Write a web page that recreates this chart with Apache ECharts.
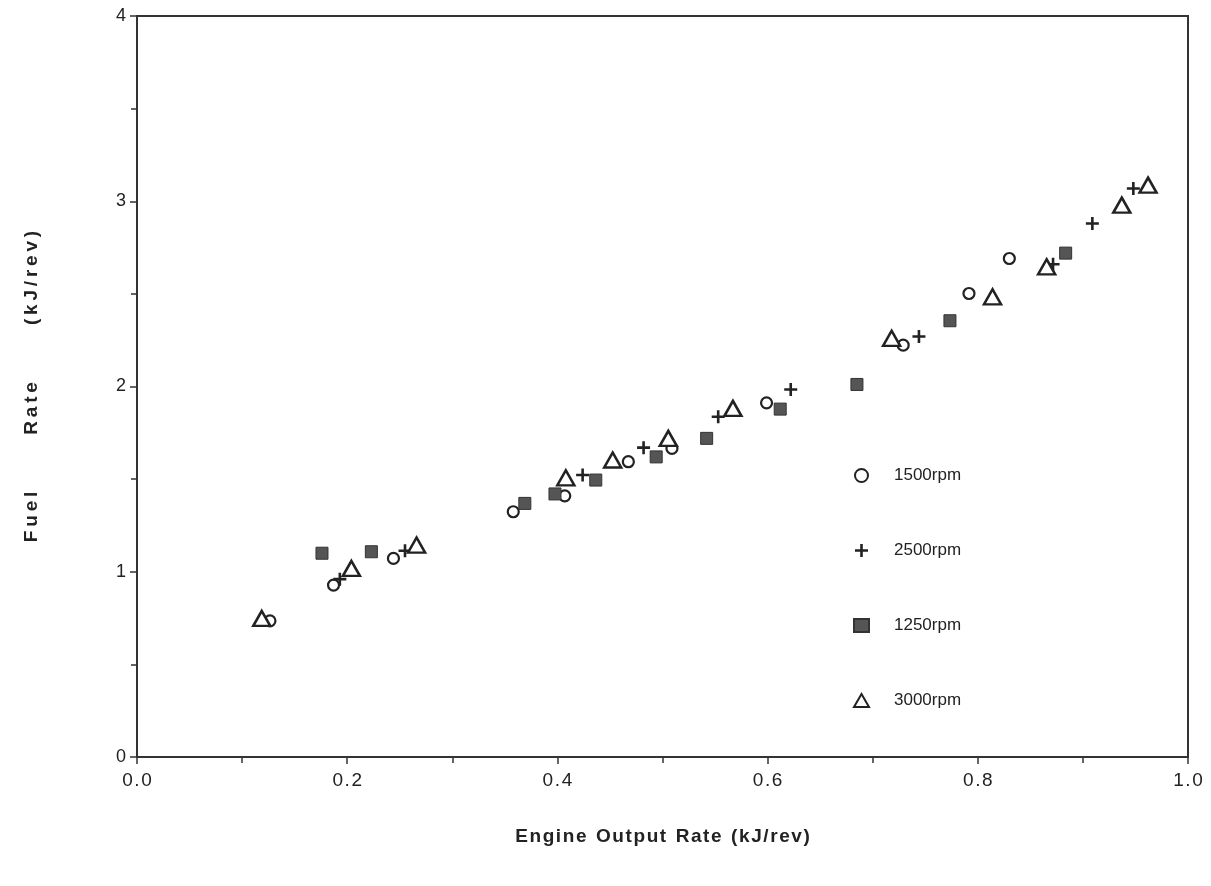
<!DOCTYPE html>
<html>
<head>
<meta charset="utf-8">
<script src="https://cdn.jsdelivr.net/npm/echarts@6/dist/echarts.min.js"></script>
<style>
html,body{margin:0;padding:0;background:#fff;}
#chart{width:1211px;height:886px;}
</style>
</head>
<body>
<div id="chart"></div>
<script>
// ---- Data ----
const seriesNames = ['1500rpm', '2500rpm', '1250rpm', '3000rpm'];

const rpm1500 = [
  [0.1265, 0.735], [0.187, 0.928], [0.244, 1.072], [0.358, 1.324], [0.407, 1.41],
  [0.4675, 1.594], [0.509, 1.666], [0.599, 1.912], [0.729, 2.223], [0.7916, 2.502],
  [0.830, 2.691]
];
const rpm2500 = [
  [0.193, 0.96], [0.255, 1.113], [0.424, 1.522], [0.482, 1.67], [0.553, 1.837],
  [0.622, 1.984], [0.744, 2.27], [0.8716, 2.66], [0.909, 2.88], [0.948, 3.069]
];
const rpm1250 = [
  [0.176, 1.10], [0.223, 1.108], [0.369, 1.369], [0.3977, 1.42], [0.4365, 1.495],
  [0.494, 1.62], [0.542, 1.72], [0.612, 1.878], [0.685, 2.011], [0.7735, 2.355],
  [0.8836, 2.72]
];
const rpm3000 = [
  [0.1187, 0.748], [0.204, 1.018], [0.266, 1.144], [0.408, 1.507], [0.4526, 1.603],
  [0.5055, 1.72], [0.567, 1.882], [0.718, 2.26], [0.814, 2.484], [0.8655, 2.646],
  [0.937, 2.979], [0.962, 3.087]
];

const xTickLabels = ['0.0', '0.2', '0.4', '0.6', '0.8', '1.0'];
const yTickLabels = ['0', '1', '2', '3', '4'];
const xTitleWords = ['Engine', 'Output', 'Rate', '(kJ/rev)'];
const yTitleWords = ['Fuel', 'Rate', '(kJ/rev)'];

// ---- Chart ----
const FONT = '"Liberation Sans", Arial, sans-serif';
const INK = '#222';
const plusPath = 'path://M4,0H6V4H10V6H6V10H4V6H0V4H4Z';
const spaced = (s, sp) => s.split('').join(sp);

const chart = echarts.init(document.getElementById('chart'), null, {renderer: 'canvas'});

const option = {
  backgroundColor: '#fff',
  animation: false,
  grid: {
    left: 137, right: 23, top: 16, bottom: 129,
    show: true, borderColor: '#333', borderWidth: 2, backgroundColor: 'transparent'
  },
  xAxis: {
    type: 'value', min: 0, max: 1, interval: 0.2,
    axisLine: {show: true, lineStyle: {color: '#333', width: 2}},
    axisTick: {show: true, inside: false, length: 7, lineStyle: {color: '#333', width: 1.5}},
    minorTick: {show: true, splitNumber: 2, length: 6, lineStyle: {color: '#333', width: 1.5}},
    splitLine: {show: false},
    axisLabel: {
      margin: 14, fontSize: 19, color: INK, fontFamily: FONT,
      formatter: v => spaced(xTickLabels[Math.round(v / 0.2)] ?? String(v), '\u200A')
    },
    name: xTitleWords.map(w => spaced(w, '\u200A')).join('\u2002'),
    nameLocation: 'middle', nameGap: 70,
    nameTextStyle: {fontSize: 19, fontWeight: 'bold', color: INK, fontFamily: FONT}
  },
  yAxis: {
    type: 'value', min: 0, max: 4, interval: 1,
    axisLine: {show: true, lineStyle: {color: '#333', width: 2}},
    axisTick: {show: true, inside: false, length: 7, lineStyle: {color: '#333', width: 1.5}},
    minorTick: {show: true, splitNumber: 2, length: 6, lineStyle: {color: '#333', width: 1.5}},
    splitLine: {show: false},
    axisLabel: {
      margin: 11, fontSize: 18, color: INK, fontFamily: FONT,
      formatter: v => yTickLabels[Math.round(v)] ?? String(v)
    },
    name: yTitleWords.map(w => spaced(w, '\u2009')).join('\u2003\u2003\u2003'),
    nameLocation: 'middle', nameGap: 96, nameRotate: 90,
    nameTextStyle: {fontSize: 19, fontWeight: 'bold', color: INK, fontFamily: FONT}
  },
  legend: {
    orient: 'vertical', left: 848, top: 462,
    itemWidth: 15, itemHeight: 13, itemGap: 58,
    data: seriesNames,
    textStyle: {fontSize: 17, color: INK, fontFamily: FONT, padding: [0, 0, 0, 20]}
  },
  series: [
    {
      name: seriesNames[0], type: 'scatter', data: rpm1500,
      symbol: 'circle', symbolSize: 11,
      itemStyle: {color: '#fff', borderColor: INK, borderWidth: 2.2, opacity: 1}
    },
    {
      name: seriesNames[1], type: 'scatter', data: rpm2500,
      symbol: plusPath, symbolSize: 13,
      itemStyle: {color: INK, opacity: 1}
    },
    {
      name: seriesNames[2], type: 'scatter', data: rpm1250,
      symbol: 'rect', symbolSize: 12,
      itemStyle: {color: '#555', borderColor: '#333', borderWidth: 1, opacity: 1}
    },
    {
      name: seriesNames[3], type: 'scatter', data: rpm3000,
      symbol: 'triangle', symbolSize: [17, 15],
      itemStyle: {color: '#fff', borderColor: INK, borderWidth: 2.5, opacity: 1}
    }
  ]
};
chart.setOption(option);
</script>
</body>
</html>
